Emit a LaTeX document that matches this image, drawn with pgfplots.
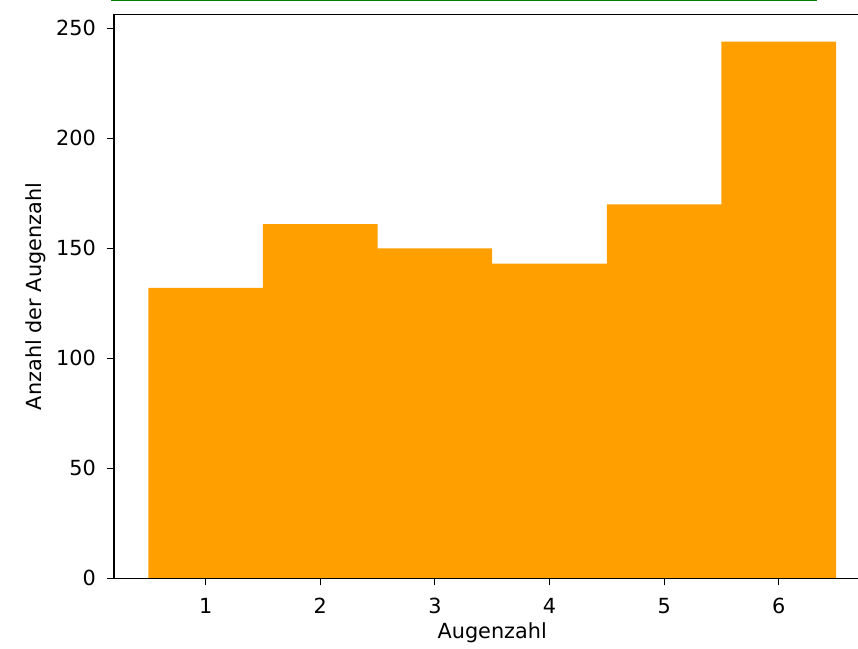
\documentclass[border=0pt]{standalone}
\usepackage{pgfplots}
\pgfplotsset{compat=1.18}
\usepackage{fontspec}
\setmainfont{DejaVu Sans}
\definecolor{barorange}{RGB}{255,160,0}
\begin{document}
\begin{tikzpicture}[x=1pt,y=1pt]
\useasboundingbox (0,0) rectangle (858,648);
\draw[green!50!black, line width=1.4pt] (111,647.3) -- (817,647.3);
\begin{axis}[
  at={(114pt,69.7pt)}, anchor=south west,
  scale only axis, width=756.4pt, height=563.6pt,
  xmin=0.2, xmax=6.8, ymin=0, ymax=256.2,
  xtick={1,2,3,4,5,6}, ytick={0,50,100,150,200,250},
  xtick pos=bottom, ytick pos=left,
  tick align=outside, major tick length=7pt,
  every tick/.style={black, line width=1.1pt},
  axis line style={line width=1.1pt},
  /pgf/number format/assume math mode=true,
  tick label style={font=\fontsize{20.8}{25}\selectfont, inner sep=0pt},
  label style={font=\fontsize{20.8}{25}\selectfont, inner sep=0pt},
  xticklabel style={yshift=-13pt},
  yticklabel style={xshift=-11pt},
  xlabel={Augenzahl}, ylabel={Anzahl der Augenzahl},
  xlabel style={at={(axis description cs:0.5,-0.0971)}, anchor=center},
  ylabel style={at={(axis description cs:-0.1031,0.5)}, anchor=center},
  axis on top,
]
\addplot[ybar interval, fill=barorange, draw=none] coordinates {
(0.5,132) (1.5,161) (2.5,150) (3.5,143) (4.5,170) (5.5,244) (6.5,244)};
\end{axis}
\end{tikzpicture}
\end{document}
